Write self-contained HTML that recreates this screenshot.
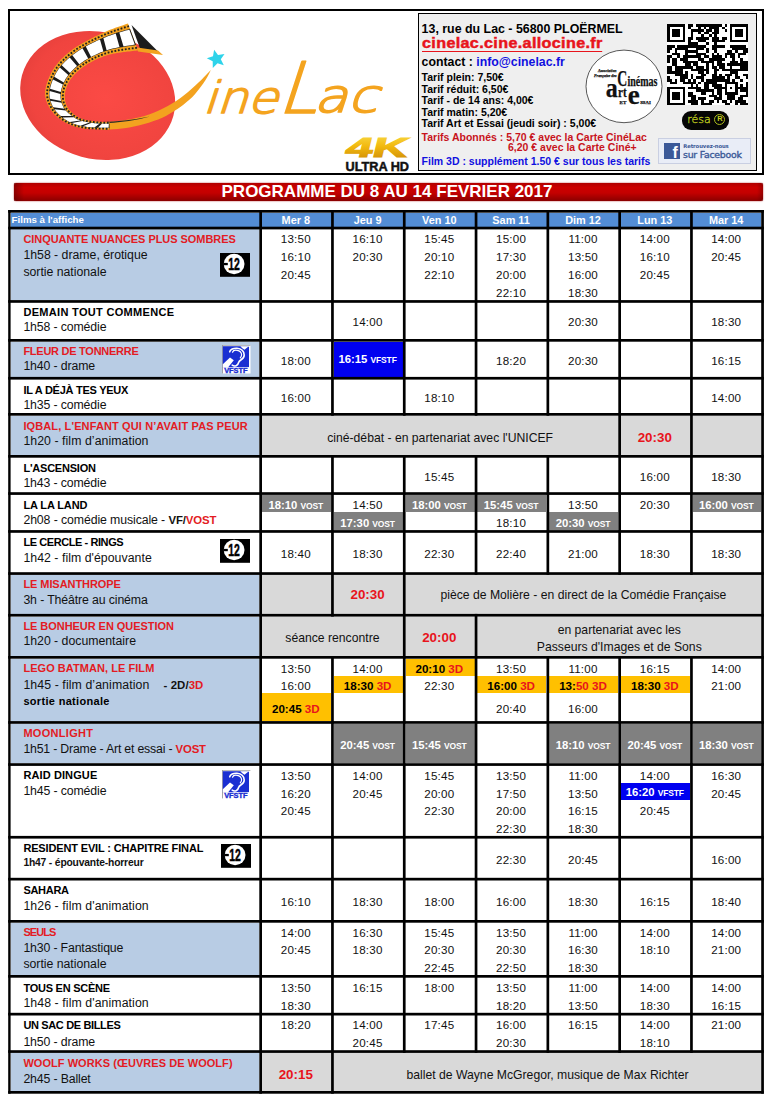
<!DOCTYPE html>
<html lang="fr"><head><meta charset="utf-8"><title>CinéLac - Programme du 8 au 14 février 2017</title>
<style>
*{box-sizing:border-box}
html,body{margin:0;padding:0;background:#fff}
body{width:774px;height:1103px;position:relative;overflow:hidden;font-family:"Liberation Sans",sans-serif;color:#000}
.b,.t,.tb,.tk,.n,.ft,.fs,.hd,.g,.rb,.ic,.grid,.a{position:absolute}
.grid{left:0;top:0}
.t,.tb,.tk,.g,.rb{text-align:center;white-space:nowrap}
.t{font-size:11.6px;color:#111;letter-spacing:0.2px}
.tb{font-size:11.3px;font-weight:700;color:#fff}
.tk{font-size:11.6px;color:#000}
.sc{font-size:8.5px;font-weight:700;letter-spacing:-0.15px}
.r3{color:#e8141c;font-size:11.6px;font-weight:700}
.g{font-size:12.2px;color:#111}
.rb{font-size:13.4px;font-weight:700;color:#e8141c}
.ft{font-size:11px;font-weight:700;white-space:nowrap;color:#000}
.fs{font-size:12.3px;white-space:nowrap;color:#111}
.fs b{font-size:11.4px}
.sm{font-size:10.3px;font-weight:700}
.r,.ft.r{color:#e31b23}
.hd{font-size:9.7px;font-weight:700;color:#fff;white-space:nowrap}
.hd.c{text-align:center;font-size:10.9px}
.frame{position:absolute;left:8px;top:9px;width:756px;height:166px;border:2px solid #000}
.info{position:absolute;left:417.5px;top:13px;width:339.5px;height:157.5px;border:1px solid #000;background:#efefef}
.a{white-space:nowrap;font-weight:700}
.banner{position:absolute;left:14px;top:183px;width:748.5px;height:18px;border-radius:2px;
 background:linear-gradient(to bottom,#b00000 0%,#cc0000 25%,#c40000 55%,#8a0000 100%);box-shadow:0 0 1.5px #a00000}
.banner:before{content:"";position:absolute;left:0;top:0;bottom:0;width:10px;background:linear-gradient(to right,rgba(90,0,0,.55),rgba(90,0,0,0))}
.banner:after{content:"";position:absolute;right:0;top:0;bottom:0;width:6px;background:linear-gradient(to left,rgba(90,0,0,.4),rgba(90,0,0,0))}
.ttl{position:absolute;left:0;top:183px;width:774px;height:18px;line-height:18px;text-align:center;color:#fff;font-weight:700;font-size:17px;white-space:nowrap}
</style></head><body>
<div class="frame"></div>
<svg class="a" style="left:0;top:0" width="420" height="176" viewBox="0 0 420 176">
<defs><radialGradient id="rg" cx="55%" cy="50%" r="60%"><stop offset="0" stop-color="#fb4a45"/><stop offset="0.8" stop-color="#f0443f"/><stop offset="1" stop-color="#e43f3b"/></radialGradient>
<linearGradient id="gold" x1="0" y1="0" x2="0" y2="1"><stop offset="0" stop-color="#f9dc4a"/><stop offset="0.45" stop-color="#f2b90f"/><stop offset="1" stop-color="#c98506"/></linearGradient></defs>
<ellipse cx="97.7" cy="95.5" rx="78.4" ry="63.4" transform="rotate(15 97.7 95.5)" fill="url(#rg)"/>
<path fill="#f3a21f" d="M100.0 129.6C101.7 129.6 105.6 129.8 110.0 129.6C114.4 129.3 120.5 129.0 126.2 128.1C131.9 127.2 138.2 125.8 144.2 124.1C150.2 122.4 157.2 120.0 162.3 117.8C167.4 115.5 171.4 112.9 175.0 110.6C178.6 108.3 180.7 106.9 184.0 104.2C187.3 101.5 191.3 98.4 194.9 94.3C198.5 90.2 203.0 83.9 205.7 79.8C208.3 75.7 210.0 71.6 210.8 69.9 L210.8 69.9C208.8 72.0 203.0 78.3 198.5 82.5C194.0 86.7 189.1 91.3 184.0 95.2C178.9 99.1 173.5 102.8 167.8 106.0C162.1 109.2 155.7 112.0 149.7 114.2C143.7 116.4 137.6 117.8 131.6 119.0C125.6 120.2 118.8 120.9 113.5 121.4C108.2 121.9 102.2 121.9 100.0 122.0Z"/>
<path d="M100 123.6 Q128 123 150 116.6 Q128 121.2 100 122.2Z" fill="#2a2a2a"/>
<polygon fill="#f3a21f" points="128.0,23.4 127.2,23.7 126.2,24.1 125.0,24.5 123.8,24.9 122.4,25.4 120.9,25.9 119.3,26.4 117.7,27.0 116.0,27.6 114.2,28.3 112.5,28.9 110.7,29.6 108.9,30.3 107.2,31.0 105.5,31.8 103.8,32.5 102.1,33.3 100.4,34.1 98.6,34.9 96.8,35.8 94.9,36.6 93.1,37.5 91.2,38.5 89.3,39.4 87.5,40.4 85.6,41.4 83.8,42.4 82.0,43.4 80.3,44.4 78.6,45.4 76.9,46.5 75.4,47.5 73.9,48.6 72.4,49.6 71.0,50.7 69.6,51.8 68.2,52.9 66.9,54.0 65.6,55.1 64.3,56.3 63.1,57.4 61.9,58.6 60.7,59.8 59.6,61.0 58.5,62.2 57.5,63.5 56.5,64.7 55.5,66.0 54.6,67.3 53.7,68.7 52.8,70.1 52.0,71.5 51.2,73.0 50.5,74.5 49.7,75.9 49.1,77.4 48.4,78.9 47.9,80.4 47.3,81.9 46.9,83.3 46.4,84.7 46.1,86.1 45.8,87.4 45.5,88.7 45.3,89.9 45.2,91.1 45.1,92.3 45.1,93.4 45.1,94.6 45.2,95.7 45.3,96.7 45.5,97.8 45.8,98.8 46.0,99.8 46.3,100.9 46.7,101.9 47.1,102.9 47.5,103.8 47.9,104.8 48.4,105.8 48.9,106.8 49.5,107.8 50.1,108.7 50.7,109.7 51.4,110.7 52.2,111.6 52.9,112.5 53.7,113.5 54.6,114.4 55.5,115.3 56.4,116.1 57.3,117.0 58.2,117.8 59.2,118.5 60.2,119.3 61.2,120.0 62.2,120.7 63.3,121.3 64.4,122.0 65.5,122.6 66.6,123.2 67.7,123.7 68.9,124.3 70.1,124.8 71.4,125.3 72.6,125.7 73.9,126.2 75.3,126.6 76.6,127.0 78.1,127.4 79.5,127.7 81.0,128.0 82.6,128.3 84.3,128.5 86.2,128.7 88.2,128.9 90.2,129.0 92.3,129.1 94.4,129.2 96.5,129.2 98.5,129.3 100.5,129.3 102.4,129.4 104.2,129.4 105.8,129.4 107.2,129.4 108.5,129.5 109.5,129.5 109.5,122.0 109.0,122.0 108.5,122.0 107.8,122.0 107.1,122.0 106.3,122.0 105.5,122.0 104.6,121.9 103.7,121.9 102.7,121.9 101.8,121.9 100.8,121.9 99.8,121.8 98.8,121.7 97.9,121.7 96.9,121.6 96.0,121.5 95.1,121.4 94.2,121.3 93.2,121.2 92.3,121.1 91.3,121.0 90.4,120.9 89.4,120.8 88.5,120.6 87.5,120.5 86.5,120.3 85.6,120.1 84.6,119.9 83.7,119.6 82.8,119.3 81.9,119.0 81.0,118.6 80.1,118.2 79.2,117.7 78.3,117.2 77.4,116.7 76.5,116.1 75.7,115.6 74.8,114.9 73.9,114.3 73.1,113.6 72.3,113.0 71.5,112.3 70.8,111.6 70.1,110.8 69.4,110.1 68.8,109.4 68.3,108.6 67.8,107.8 67.4,107.0 67.0,106.2 66.6,105.4 66.2,104.5 65.9,103.6 65.7,102.8 65.4,101.9 65.2,100.9 65.1,100.0 64.9,99.1 64.9,98.1 64.8,97.2 64.8,96.3 64.8,95.3 64.9,94.4 65.0,93.5 65.1,92.5 65.3,91.5 65.5,90.6 65.8,89.6 66.1,88.6 66.4,87.6 66.8,86.6 67.2,85.6 67.6,84.6 68.1,83.6 68.6,82.6 69.1,81.7 69.7,80.7 70.3,79.7 71.0,78.8 71.7,77.9 72.5,76.9 73.2,76.0 74.1,75.1 75.0,74.1 75.9,73.2 76.8,72.3 77.8,71.3 78.8,70.4 79.9,69.6 80.9,68.7 82.1,67.8 83.2,67.0 84.3,66.2 85.5,65.4 86.7,64.6 87.9,63.8 89.2,63.1 90.5,62.4 91.8,61.7 93.1,61.0 94.5,60.3 95.9,59.6 97.3,59.0 98.7,58.3 100.2,57.7 101.7,57.2 103.2,56.6 104.8,56.1 106.3,55.5 107.9,55.1 109.5,54.6 111.2,54.2 113.0,53.8 114.9,53.4 116.9,53.0 118.9,52.7 121.0,52.4 123.1,52.1 125.2,51.9 127.2,51.6 129.1,51.4 131.0,51.2 132.7,51.0 134.3,50.8 135.8,50.7 137.0,50.5 138.0,50.4"/>
<polygon fill="#1c1c1c" points="130.0,28.8 129.1,29.1 128.1,29.4 126.9,29.7 125.5,30.1 124.1,30.5 122.5,31.0 120.9,31.5 119.2,32.0 117.4,32.5 115.6,33.1 113.8,33.7 111.9,34.3 110.1,34.9 108.4,35.6 106.6,36.2 104.9,36.9 103.3,37.6 101.6,38.4 99.8,39.1 98.1,39.9 96.3,40.7 94.5,41.6 92.7,42.4 90.9,43.3 89.1,44.2 87.4,45.1 85.7,46.1 84.0,47.0 82.3,48.0 80.7,49.0 79.1,49.9 77.7,50.9 76.2,51.9 74.8,52.9 73.4,54.0 72.1,55.0 70.8,56.0 69.5,57.1 68.2,58.2 67.0,59.3 65.8,60.4 64.7,61.5 63.6,62.7 62.5,63.8 61.4,65.0 60.5,66.2 59.5,67.4 58.6,68.6 57.7,69.8 56.9,71.1 56.1,72.4 55.3,73.7 54.6,75.1 53.9,76.5 53.2,77.9 52.6,79.3 52.0,80.7 51.5,82.0 51.0,83.4 50.6,84.8 50.2,86.1 49.9,87.4 49.6,88.6 49.4,89.8 49.2,91.0 49.1,92.2 49.0,93.3 49.0,94.4 49.1,95.5 49.2,96.5 49.3,97.6 49.5,98.6 49.7,99.6 50.0,100.6 50.3,101.6 50.7,102.6 51.0,103.5 51.5,104.5 51.9,105.4 52.4,106.4 52.9,107.3 53.5,108.2 54.1,109.2 54.7,110.1 55.4,111.0 56.2,111.9 57.0,112.8 57.8,113.6 58.6,114.5 59.5,115.3 60.4,116.1 61.3,116.9 62.2,117.7 63.2,118.4 64.2,119.1 65.2,119.7 66.2,120.3 67.2,120.9 68.2,121.5 69.3,122.0 70.4,122.6 71.5,123.1 72.6,123.5 73.8,124.0 75.0,124.4 76.2,124.8 77.4,125.2 78.7,125.5 80.0,125.8 81.3,126.1 82.6,126.4 84.0,126.7 85.5,126.9 87.0,127.1 88.7,127.3 90.5,127.5 92.3,127.6 94.2,127.7 96.1,127.7 97.9,127.8 99.8,127.8 101.5,127.9 103.2,127.9 104.8,127.9 106.2,127.9 107.5,127.9 108.6,128.0 109.5,128.0 109.5,123.5 108.9,123.5 108.2,123.5 107.4,123.5 106.5,123.4 105.5,123.4 104.5,123.4 103.4,123.4 102.2,123.4 101.1,123.4 99.9,123.3 98.7,123.3 97.5,123.2 96.3,123.1 95.1,123.0 94.0,122.9 93.0,122.8 92.0,122.7 91.0,122.5 89.9,122.4 88.9,122.2 87.9,122.0 86.8,121.9 85.8,121.7 84.8,121.5 83.8,121.2 82.8,121.0 81.8,120.7 80.8,120.4 79.8,120.1 78.9,119.7 77.9,119.3 77.0,118.9 76.1,118.4 75.2,117.9 74.3,117.3 73.4,116.7 72.5,116.1 71.6,115.5 70.7,114.8 69.9,114.1 69.1,113.4 68.3,112.7 67.5,112.0 66.8,111.2 66.1,110.4 65.4,109.6 64.9,108.8 64.3,108.0 63.8,107.2 63.4,106.4 63.0,105.5 62.6,104.7 62.3,103.8 61.9,102.9 61.7,102.0 61.4,101.0 61.3,100.1 61.1,99.1 61.0,98.2 60.9,97.2 60.9,96.2 60.9,95.2 60.9,94.3 61.0,93.3 61.2,92.3 61.3,91.2 61.5,90.2 61.8,89.1 62.1,88.0 62.4,87.0 62.8,85.9 63.2,84.8 63.7,83.7 64.2,82.6 64.7,81.5 65.3,80.4 65.9,79.3 66.5,78.3 67.2,77.3 67.9,76.2 68.7,75.2 69.5,74.2 70.3,73.2 71.2,72.2 72.1,71.3 73.1,70.3 74.1,69.3 75.1,68.3 76.2,67.4 77.3,66.4 78.4,65.5 79.6,64.6 80.7,63.7 82.0,62.9 83.2,62.0 84.4,61.2 85.7,60.4 87.1,59.6 88.4,58.8 89.8,58.0 91.2,57.2 92.7,56.5 94.2,55.8 95.7,55.1 97.2,54.4 98.8,53.7 100.4,53.1 101.9,52.4 103.5,51.8 105.1,51.2 106.7,50.7 108.4,50.2 110.0,49.7 111.8,49.2 113.7,48.8 115.7,48.4 117.7,48.0 119.7,47.6 121.7,47.2 123.7,46.9 125.6,46.6 127.5,46.3 129.3,46.0 130.9,45.8 132.5,45.6 133.8,45.4 135.0,45.2 136.0,45.0"/>
<polygon fill="#fff" points="129.3,29.6 128.3,29.9 127.1,30.3 125.7,30.6 124.3,31.1 122.7,31.5 121.0,32.0 119.3,32.5 123.5,46.4 125.5,46.1 127.3,45.8 129.1,45.5 130.8,45.3 132.3,45.0 133.7,44.8 134.8,44.6"/>
<polygon fill="#fff" points="115.7,33.6 113.9,34.2 112.1,34.8 110.3,35.4 108.5,36.0 106.7,36.7 105.1,37.4 103.4,38.1 106.6,50.3 108.2,49.7 109.9,49.2 111.7,48.8 113.6,48.3 115.5,47.9 117.5,47.5 119.5,47.1"/>
<polygon fill="#fff" points="100.0,39.6 98.2,40.3 96.4,41.1 94.7,42.0 92.9,42.8 91.1,43.7 89.3,44.6 87.6,45.5 85.8,46.5 91.1,56.9 92.5,56.1 94.0,55.4 95.5,54.7 97.1,54.0 98.7,53.3 100.2,52.6 101.8,52.0 103.4,51.4"/>
<polygon fill="#fff" points="82.5,48.3 80.9,49.3 79.4,50.3 77.9,51.3 76.5,52.3 75.1,53.3 73.7,54.3 72.3,55.3 79.3,64.3 80.5,63.4 81.7,62.5 83.0,61.7 84.2,60.8 85.5,60.0 86.8,59.2 88.2,58.4"/>
<polygon fill="#fff" points="69.7,57.4 68.5,58.5 67.3,59.6 66.1,60.7 64.9,61.8 63.8,62.9 62.8,64.1 61.7,65.3 70.0,73.0 70.9,72.0 71.8,71.0 72.8,70.0 73.8,69.0 74.8,68.0 75.9,67.1 77.0,66.1"/>
<polygon fill="#fff" points="59.8,67.6 58.9,68.8 58.0,70.0 57.2,71.3 56.4,72.6 55.6,74.0 54.9,75.3 54.2,76.7 63.8,82.4 64.4,81.3 64.9,80.2 65.5,79.1 66.2,78.0 66.9,77.0 67.6,76.0 68.3,75.0"/>
<polygon fill="#fff" points="53.0,79.5 52.4,80.8 51.9,82.2 51.4,83.6 51.0,84.9 50.6,86.2 50.3,87.5 50.0,88.8 60.8,92.1 60.9,91.1 61.2,90.0 61.4,89.0 61.7,87.9 62.1,86.8 62.4,85.7 62.9,84.6"/>
<polygon fill="#fff" points="49.6,91.1 49.5,92.3 49.4,93.4 49.4,94.5 49.5,95.6 49.6,96.6 49.7,97.7 49.9,98.7 61.0,101.0 60.9,100.0 60.7,99.1 60.6,98.1 60.5,97.1 60.5,96.1 60.5,95.1 60.5,94.1"/>
<polygon fill="#fff" points="50.4,100.7 50.7,101.7 51.1,102.6 51.4,103.6 51.9,104.5 52.3,105.5 52.8,106.4 53.3,107.3 64.5,108.8 63.9,108.0 63.4,107.2 63.0,106.3 62.6,105.5 62.2,104.6 61.9,103.7 61.5,102.8"/>
<polygon fill="#fff" points="54.5,109.2 55.1,110.1 55.8,111.0 56.6,111.9 57.4,112.8 58.2,113.7 59.0,114.5 59.9,115.3 60.8,116.1 72.1,116.1 71.2,115.5 70.3,114.8 69.5,114.1 68.7,113.4 67.9,112.7 67.1,111.9 66.4,111.2 65.7,110.4"/>
<polygon fill="#fff" points="62.7,117.6 63.6,118.4 64.6,119.0 65.6,119.7 66.6,120.3 67.6,120.9 68.6,121.5 69.7,122.0 80.4,120.5 79.4,120.1 78.5,119.8 77.6,119.4 76.6,118.9 75.7,118.4 74.8,117.9 73.9,117.3"/>
<polygon fill="#fff" points="71.9,123.0 73.0,123.4 74.2,123.9 75.3,124.3 76.5,124.7 77.8,125.0 79.0,125.4 80.3,125.7 89.6,122.5 88.6,122.3 87.5,122.1 86.5,122.0 85.4,121.8 84.4,121.6 83.4,121.3 82.4,121.1"/>
<polygon fill="#fff" points="82.9,126.3 84.3,126.6 85.7,126.8 87.3,127.0 89.0,127.2 90.7,127.3 92.5,127.4 94.4,127.5 99.7,123.5 98.5,123.4 97.2,123.4 96.0,123.3 94.9,123.2 93.8,123.1 92.7,122.9 91.7,122.8"/>
<polygon fill="#fff" points="98.1,127.6 99.9,127.7 101.6,127.7 103.3,127.7 104.8,127.8 106.2,127.8 107.5,127.8 108.6,127.8 108.9,123.6 108.2,123.6 107.4,123.6 106.5,123.6 105.5,123.6 104.4,123.6 103.3,123.6 102.1,123.5"/>
<path d="M129.0 26.1 L128.1 26.4 L127.1 26.7 L126.0 27.1 L124.6 27.5 L123.2 28.0 L121.7 28.4 L120.1 29.0 L118.4 29.5 L116.7 30.1 L114.9 30.7 L113.1 31.3 L111.3 31.9 L109.5 32.6 L107.8 33.3 L106.0 34.0 L104.4 34.7 L102.7 35.4 L101.0 36.2 L99.2 37.0 L97.4 37.8 L95.6 38.7 L93.8 39.6 L92.0 40.5 L90.1 41.4 L88.3 42.3 L86.5 43.3 L84.7 44.2 L83.0 45.2 L81.3 46.2 L79.6 47.2 L78.0 48.2 L76.5 49.2 L75.1 50.2 L73.6 51.3 L72.2 52.3 L70.8 53.4 L69.5 54.5 L68.2 55.6 L66.9 56.7 L65.7 57.8 L64.4 58.9 L63.3 60.1 L62.1 61.2 L61.0 62.4 L60.0 63.6 L59.0 64.8 L58.0 66.0 L57.0 67.3 L56.2 68.6 L55.3 69.9 L54.5 71.2 L53.7 72.6 L52.9 74.0 L52.2 75.5 L51.5 76.9 L50.8 78.4 L50.2 79.8 L49.7 81.2 L49.2 82.6 L48.7 84.0 L48.3 85.4 L48.0 86.7 L47.7 88.0 L47.4 89.3 L47.3 90.5 L47.1 91.6 L47.1 92.8 L47.1 93.9 L47.1 95.0 L47.2 96.1 L47.3 97.1 L47.5 98.2 L47.7 99.2 L48.0 100.2 L48.3 101.2 L48.7 102.2 L49.0 103.2 L49.5 104.2 L49.9 105.1 L50.4 106.1 L50.9 107.0 L51.5 108.0 L52.1 108.9 L52.7 109.9 L53.4 110.8 L54.2 111.7 L55.0 112.7 L55.8 113.6 L56.6 114.4 L57.5 115.3 L58.4 116.1 L59.3 116.9 L60.2 117.7 L61.2 118.5 L62.2 119.2 L63.2 119.9 L64.2 120.5 L65.2 121.1 L66.3 121.7 L67.4 122.3 L68.5 122.9 L69.6 123.4 L70.8 123.9 L72.0 124.4 L73.2 124.8 L74.4 125.3 L75.7 125.7 L77.0 126.1 L78.3 126.4 L79.7 126.7 L81.1 127.1 L82.5 127.3 L84.0 127.6 L85.7 127.8 L87.5 128.0 L89.3 128.2 L91.3 128.3 L93.2 128.4 L95.2 128.5 L97.2 128.5 L99.1 128.6 L101.0 128.6 L102.8 128.6 L104.5 128.6 L106.0 128.7 L107.4 128.7 L108.5 128.7 L109.5 128.8" fill="none" stroke="#222" stroke-width="1.9" stroke-dasharray="1.8 1.7"/>
<path d="M137.0 47.7 L136.0 47.9 L134.8 48.0 L133.4 48.2 L131.8 48.4 L130.1 48.6 L128.3 48.9 L126.4 49.1 L124.4 49.4 L122.4 49.7 L120.3 50.0 L118.3 50.3 L116.3 50.7 L114.3 51.1 L112.4 51.5 L110.6 51.9 L108.9 52.4 L107.3 52.9 L105.7 53.4 L104.2 53.9 L102.6 54.5 L101.0 55.1 L99.5 55.7 L98.0 56.4 L96.5 57.0 L95.0 57.7 L93.6 58.4 L92.2 59.1 L90.8 59.8 L89.4 60.6 L88.1 61.3 L86.8 62.1 L85.6 62.9 L84.3 63.7 L83.1 64.5 L82.0 65.4 L80.8 66.2 L79.7 67.1 L78.6 68.0 L77.5 68.9 L76.5 69.8 L75.4 70.8 L74.5 71.7 L73.5 72.7 L72.6 73.6 L71.8 74.6 L71.0 75.6 L70.2 76.6 L69.5 77.5 L68.8 78.5 L68.1 79.5 L67.5 80.5 L66.9 81.5 L66.4 82.6 L65.9 83.6 L65.4 84.6 L65.0 85.7 L64.6 86.7 L64.2 87.8 L63.9 88.8 L63.7 89.8 L63.4 90.9 L63.2 91.9 L63.1 92.9 L63.0 93.8 L62.9 94.8 L62.8 95.8 L62.8 96.7 L62.9 97.7 L63.0 98.6 L63.1 99.6 L63.2 100.5 L63.4 101.4 L63.7 102.4 L63.9 103.3 L64.2 104.2 L64.6 105.0 L65.0 105.9 L65.4 106.7 L65.8 107.5 L66.3 108.3 L66.8 109.1 L67.4 109.9 L68.1 110.6 L68.8 111.4 L69.5 112.1 L70.3 112.8 L71.1 113.5 L71.9 114.2 L72.8 114.9 L73.6 115.5 L74.5 116.1 L75.4 116.7 L76.3 117.3 L77.2 117.8 L78.1 118.3 L79.0 118.7 L79.9 119.2 L80.8 119.5 L81.8 119.9 L82.7 120.2 L83.7 120.4 L84.6 120.7 L85.6 120.9 L86.6 121.1 L87.6 121.2 L88.6 121.4 L89.6 121.5 L90.6 121.7 L91.6 121.8 L92.6 121.9 L93.5 122.0 L94.5 122.2 L95.5 122.3 L96.5 122.4 L97.6 122.4 L98.6 122.5 L99.7 122.6 L100.8 122.6 L101.9 122.6 L103.0 122.7 L104.0 122.7 L105.0 122.7 L105.9 122.7 L106.8 122.7 L107.6 122.7 L108.3 122.7 L109.0 122.7 L109.5 122.8" fill="none" stroke="#222" stroke-width="1.9" stroke-dasharray="1.8 1.7"/>
<polygon fill="#1c1c1c" points="131.5,25 158,51.5 140,48.5"/>
<polygon fill="#f3a21f" points="137,47.5 158,50.5 163,55 138,51.5"/>
<polygon fill="#2ed3ea" points="214.1,49.7 218.0,54.9 224.5,53.9 220.8,59.3 223.8,65.2 217.5,63.3 212.8,67.9 212.7,61.3 206.8,58.3 213.0,56.2"/>
<g font-family="'DejaVu Sans Light','DejaVu Sans',sans-serif" font-weight="200" fill="#f4a41f" stroke="#f4a41f" stroke-width="1.7" stroke-linejoin="round">
<text transform="translate(202.5 112.6) skewX(-18)" font-size="44" textLength="75" lengthAdjust="spacingAndGlyphs">ine</text>
<text transform="translate(276.5 112.6) skewX(-18)" font-size="71" textLength="40" lengthAdjust="spacingAndGlyphs">L</text>
<text transform="translate(313.5 112.2) skewX(-18)" font-size="46" textLength="64" lengthAdjust="spacingAndGlyphs">ac</text>
</g>
<text transform="translate(344 157.2) skewX(-14)" font-family="'Liberation Sans',sans-serif" font-weight="700" font-size="27.5" fill="url(#gold)" stroke="url(#gold)" stroke-width="1.2" textLength="62" lengthAdjust="spacingAndGlyphs">4K</text>
<text x="345.5" y="171" font-family="'Liberation Sans',sans-serif" font-weight="700" font-size="13.2" fill="#111" stroke="#111" stroke-width="0.5" textLength="63.5" lengthAdjust="spacingAndGlyphs">ULTRA HD</text>
</svg>
<div class="info"></div>
<div class="a" style="left:421.6px;top:21.5px;font-size:12.4px;line-height:15px">13, rue du Lac - 56800 PLOËRMEL</div>
<div class="a" style="left:421.6px;top:35.3px;font-size:13.8px;line-height:17px;color:#e8141c;letter-spacing:0.3px;-webkit-text-stroke:0.45px #e8141c;border-bottom:1.3px solid #e8141c;height:17px;transform:scaleX(1.17);transform-origin:0 0">cinelac.cine.allocine.fr</div>
<div class="a" style="left:421.6px;top:54.5px;font-size:12.3px;line-height:15px">contact : <span style="color:#1010e0">info@cinelac.fr</span></div>
<div class="a" style="left:421.6px;top:72.2px;font-size:10.5px;line-height:11.55px;white-space:pre">Tarif plein: 7,50€
Tarif réduit: 6,50€
Tarif - de 14 ans: 4,00€
Tarif matin: 5,20€
Tarif Art et Essai (jeudi soir) : 5,00€</div>
<div class="a" style="left:421.6px;top:132.3px;font-size:10.5px;line-height:11px;color:#c8141c">Tarifs Abonnés : 5,70 € avec la Carte CinéLac</div>
<div class="a" style="left:508px;top:142.3px;font-size:10.5px;line-height:11px;color:#c8141c">6,20 € avec la Carte Ciné+</div>
<div class="a" style="left:421.6px;top:155.8px;font-size:10.5px;line-height:11px;color:#1010e0">Film 3D : supplément 1.50 € sur tous les tarifs</div>
<svg class="a" style="left:580px;top:44px" width="90" height="84" viewBox="580 44 90 84">
<ellipse cx="624" cy="86.4" rx="38" ry="36.3" fill="#fff" stroke="#111" stroke-width="0.7"/>
<g font-family="'Liberation Serif',serif" font-weight="700" fill="#111" stroke="#111" stroke-width="0.25">
<text x="598" y="72.3" font-size="4.4" font-style="italic" textLength="18.5" lengthAdjust="spacingAndGlyphs">Association</text>
<text x="594" y="76.6" font-size="4.4" font-style="italic" textLength="22.5" lengthAdjust="spacingAndGlyphs">Française des</text>
<text x="617.2" y="85.9" font-size="24" textLength="10" lengthAdjust="spacingAndGlyphs">C</text>
<text x="627.4" y="85.9" font-size="14.5" textLength="30" lengthAdjust="spacingAndGlyphs">inémas</text>
<text x="605.8" y="96.8" font-size="27" textLength="12" lengthAdjust="spacingAndGlyphs">a</text>
<text x="618" y="96.8" font-size="14.5" textLength="8.6" lengthAdjust="spacingAndGlyphs">rt</text>
<text x="627.8" y="104" font-size="28" textLength="12" lengthAdjust="spacingAndGlyphs">e</text>
<text x="619.6" y="104" font-size="5" textLength="6.8" lengthAdjust="spacingAndGlyphs">ET</text>
<text x="640.2" y="104" font-size="5" textLength="10.6" lengthAdjust="spacingAndGlyphs">SSAI</text>
</g></svg>
<svg class="a" style="left:667.2px;top:23.6px" width="81.2" height="81.2" viewBox="0 0 31 31" shape-rendering="crispEdges"><rect width="31" height="31" fill="#fff"/><path fill="#000" d="M0 0h7v1h-7zM8 0h2v1h-2zM11 0h10v1h-10zM22 0h1v1h-1zM24 0h7v1h-7zM0 1h1v1h-1zM6 1h1v1h-1zM8 1h1v1h-1zM12 1h1v1h-1zM14 1h1v1h-1zM16 1h4v1h-4zM21 1h1v1h-1zM24 1h1v1h-1zM30 1h1v1h-1zM0 2h1v1h-1zM2 2h3v1h-3zM6 2h1v1h-1zM9 2h5v1h-5zM15 2h2v1h-2zM18 2h2v1h-2zM22 2h1v1h-1zM24 2h1v1h-1zM26 2h3v1h-3zM30 2h1v1h-1zM0 3h1v1h-1zM2 3h3v1h-3zM6 3h1v1h-1zM9 3h1v1h-1zM12 3h1v1h-1zM14 3h2v1h-2zM17 3h3v1h-3zM24 3h1v1h-1zM26 3h3v1h-3zM30 3h1v1h-1zM0 4h1v1h-1zM2 4h3v1h-3zM6 4h1v1h-1zM9 4h1v1h-1zM13 4h1v1h-1zM16 4h1v1h-1zM18 4h1v1h-1zM24 4h1v1h-1zM26 4h3v1h-3zM30 4h1v1h-1zM0 5h1v1h-1zM6 5h1v1h-1zM8 5h2v1h-2zM11 5h5v1h-5zM17 5h3v1h-3zM21 5h2v1h-2zM24 5h1v1h-1zM30 5h1v1h-1zM0 6h7v1h-7zM8 6h1v1h-1zM12 6h3v1h-3zM17 6h5v1h-5zM24 6h7v1h-7zM8 7h4v1h-4zM15 7h1v1h-1zM18 7h1v1h-1zM0 8h3v1h-3zM4 8h11v1h-11zM17 8h5v1h-5zM24 8h6v1h-6zM0 9h2v1h-2zM3 9h5v1h-5zM11 9h3v1h-3zM15 9h1v1h-1zM17 9h2v1h-2zM25 9h6v1h-6zM0 10h1v1h-1zM3 10h1v1h-1zM7 10h5v1h-5zM15 10h1v1h-1zM18 10h1v1h-1zM23 10h2v1h-2zM26 10h1v1h-1zM29 10h2v1h-2zM2 11h3v1h-3zM7 11h1v1h-1zM11 11h4v1h-4zM17 11h1v1h-1zM19 11h1v1h-1zM22 11h4v1h-4zM27 11h3v1h-3zM0 12h2v1h-2zM4 12h1v1h-1zM6 12h7v1h-7zM14 12h2v1h-2zM17 12h4v1h-4zM22 12h1v1h-1zM24 12h2v1h-2zM27 12h1v1h-1zM0 13h1v1h-1zM2 13h2v1h-2zM5 13h3v1h-3zM12 13h2v1h-2zM16 13h6v1h-6zM25 13h1v1h-1zM28 13h1v1h-1zM0 14h1v1h-1zM2 14h2v1h-2zM6 14h6v1h-6zM13 14h5v1h-5zM19 14h2v1h-2zM24 14h3v1h-3zM28 14h3v1h-3zM2 15h2v1h-2zM7 15h2v1h-2zM10 15h2v1h-2zM15 15h1v1h-1zM17 15h1v1h-1zM19 15h3v1h-3zM23 15h8v1h-8zM0 16h2v1h-2zM3 16h7v1h-7zM11 16h3v1h-3zM15 16h1v1h-1zM17 16h2v1h-2zM20 16h2v1h-2zM24 16h1v1h-1zM28 16h3v1h-3zM0 17h2v1h-2zM3 17h3v1h-3zM9 17h7v1h-7zM18 17h2v1h-2zM21 17h10v1h-10zM0 18h6v1h-6zM7 18h1v1h-1zM12 18h2v1h-2zM15 18h1v1h-1zM18 18h1v1h-1zM24 18h3v1h-3zM3 19h5v1h-5zM9 19h1v1h-1zM13 19h2v1h-2zM17 19h2v1h-2zM20 19h1v1h-1zM22 19h3v1h-3zM26 19h1v1h-1zM29 19h2v1h-2zM0 20h1v1h-1zM5 20h3v1h-3zM9 20h1v1h-1zM11 20h3v1h-3zM17 20h5v1h-5zM23 20h1v1h-1zM26 20h2v1h-2zM30 20h1v1h-1zM0 21h2v1h-2zM3 21h1v1h-1zM5 21h2v1h-2zM8 21h1v1h-1zM10 21h1v1h-1zM13 21h1v1h-1zM15 21h9v1h-9zM25 21h1v1h-1zM28 21h1v1h-1zM1 22h3v1h-3zM6 22h5v1h-5zM12 22h1v1h-1zM14 22h5v1h-5zM22 22h5v1h-5zM30 22h1v1h-1zM9 23h1v1h-1zM11 23h1v1h-1zM14 23h2v1h-2zM17 23h4v1h-4zM22 23h1v1h-1zM26 23h1v1h-1zM28 23h1v1h-1zM30 23h1v1h-1zM0 24h7v1h-7zM8 24h5v1h-5zM14 24h2v1h-2zM18 24h5v1h-5zM24 24h1v1h-1zM26 24h5v1h-5zM0 25h1v1h-1zM6 25h1v1h-1zM11 25h7v1h-7zM19 25h2v1h-2zM22 25h1v1h-1zM26 25h1v1h-1zM28 25h3v1h-3zM0 26h1v1h-1zM2 26h3v1h-3zM6 26h1v1h-1zM8 26h2v1h-2zM13 26h2v1h-2zM17 26h1v1h-1zM19 26h2v1h-2zM22 26h5v1h-5zM30 26h1v1h-1zM0 27h1v1h-1zM2 27h3v1h-3zM6 27h1v1h-1zM8 27h3v1h-3zM16 27h3v1h-3zM20 27h1v1h-1zM23 27h3v1h-3zM28 27h3v1h-3zM0 28h1v1h-1zM2 28h3v1h-3zM6 28h1v1h-1zM9 28h2v1h-2zM12 28h3v1h-3zM18 28h3v1h-3zM23 28h3v1h-3zM27 28h2v1h-2zM0 29h1v1h-1zM6 29h1v1h-1zM8 29h4v1h-4zM13 29h1v1h-1zM16 29h2v1h-2zM19 29h1v1h-1zM21 29h2v1h-2zM24 29h1v1h-1zM26 29h4v1h-4zM0 30h7v1h-7zM9 30h3v1h-3zM13 30h4v1h-4zM22 30h2v1h-2zM26 30h1v1h-1zM28 30h3v1h-3z"/></svg>
<div class="a" style="left:682.4px;top:110.5px;width:47px;height:19px;border-radius:9px;background:#050505"></div>
<div class="a" style="left:687.2px;top:110.5px;height:19px;line-height:18.2px;color:#c3d21f;font-family:'DejaVu Sans Light','DejaVu Sans',sans-serif;font-weight:200;font-size:11px;-webkit-text-stroke:0.3px #c3d21f">résa</div>
<div class="a" style="left:714.4px;top:114.3px;width:11px;height:11px;border-radius:6px;border:1.3px solid #aebd1c;color:#c3d21f;font-size:7.5px;line-height:8.6px;text-align:center">R</div>
<div class="a" style="left:658.3px;top:138px;width:92.6px;height:26px;background:#e9edf7;border:1px solid #c9cfe2"></div>
<div class="a" style="left:664px;top:143px;width:16px;height:16px;background:#3b5998;color:#fff;font-size:16px;line-height:19px;text-align:right;padding-right:2.2px;overflow:hidden">f</div>
<div class="a" style="left:683.2px;top:142.3px;font-size:5.3px;line-height:8px;color:#3b5998;font-family:'DejaVu Sans',sans-serif;letter-spacing:-0.1px">Retrouvez-nous</div>
<div class="a" style="left:683px;top:149.2px;font-size:9.4px;line-height:12px;color:#3b5998;font-weight:400;font-family:'DejaVu Sans',sans-serif;-webkit-text-stroke:0.35px #3b5998;letter-spacing:-0.25px">sur Facebook</div>

<div class="banner"></div><div class="ttl">PROGRAMME DU 8 AU 14 FEVRIER 2017</div>
<div class="b" style="left:10.5px;top:229.4px;width:248.8px;height:70.7px;background:#b8cce4"></div>
<div class="b" style="left:10.5px;top:341.7px;width:248.8px;height:35.2px;background:#b8cce4"></div>
<div class="b" style="left:10.5px;top:415.7px;width:248.8px;height:39.3px;background:#b8cce4"></div>
<div class="b" style="left:10.5px;top:574.9px;width:248.8px;height:39.0px;background:#b8cce4"></div>
<div class="b" style="left:10.5px;top:616.6px;width:248.8px;height:39.4px;background:#b8cce4"></div>
<div class="b" style="left:10.5px;top:658.7px;width:248.8px;height:62.4px;background:#b8cce4"></div>
<div class="b" style="left:10.5px;top:723.8px;width:248.8px;height:39.4px;background:#b8cce4"></div>
<div class="b" style="left:10.5px;top:922.7px;width:248.8px;height:52.3px;background:#b8cce4"></div>
<div class="b" style="left:10.5px;top:1052.9px;width:248.8px;height:38.1px;background:#b8cce4"></div>
<div class="b" style="left:10.5px;top:212.7px;width:750.7px;height:14.0px;background:#538dd5"></div>
<div class="b" style="left:333.8px;top:341.7px;width:69.1px;height:35.2px;background:#0000f0"></div>
<div class="b" style="left:262.0px;top:415.7px;width:499.2px;height:39.3px;background:#d9d9d9"></div>
<div class="b" style="left:262.0px;top:494.9px;width:69.1px;height:17.5px;background:#808080"></div>
<div class="b" style="left:333.8px;top:512.4px;width:69.1px;height:17.7px;background:#808080"></div>
<div class="b" style="left:405.6px;top:494.9px;width:69.1px;height:17.5px;background:#808080"></div>
<div class="b" style="left:477.4px;top:494.9px;width:69.1px;height:17.5px;background:#808080"></div>
<div class="b" style="left:549.2px;top:512.4px;width:69.1px;height:17.7px;background:#808080"></div>
<div class="b" style="left:692.8px;top:494.9px;width:68.4px;height:17.5px;background:#808080"></div>
<div class="b" style="left:262.0px;top:574.9px;width:499.2px;height:39.0px;background:#d9d9d9"></div>
<div class="b" style="left:262.0px;top:616.6px;width:499.2px;height:39.4px;background:#d9d9d9"></div>
<div class="b" style="left:262.0px;top:692.8px;width:69.1px;height:28.3px;background:#ffc000"></div>
<div class="b" style="left:333.8px;top:676.0px;width:69.1px;height:16.8px;background:#ffc000"></div>
<div class="b" style="left:405.6px;top:658.7px;width:69.1px;height:17.3px;background:#ffc000"></div>
<div class="b" style="left:477.4px;top:676.0px;width:69.1px;height:16.8px;background:#ffc000"></div>
<div class="b" style="left:549.2px;top:676.0px;width:69.1px;height:16.8px;background:#ffc000"></div>
<div class="b" style="left:621.0px;top:676.0px;width:69.1px;height:16.8px;background:#ffc000"></div>
<div class="b" style="left:333.8px;top:723.8px;width:69.1px;height:39.4px;background:#808080"></div>
<div class="b" style="left:405.6px;top:723.8px;width:69.1px;height:39.4px;background:#808080"></div>
<div class="b" style="left:549.2px;top:723.8px;width:69.1px;height:39.4px;background:#808080"></div>
<div class="b" style="left:621.0px;top:723.8px;width:69.1px;height:39.4px;background:#808080"></div>
<div class="b" style="left:692.8px;top:723.8px;width:68.4px;height:39.4px;background:#808080"></div>
<div class="b" style="left:621.0px;top:783.4px;width:69.1px;height:17.0px;background:#0000f0"></div>
<div class="b" style="left:262.0px;top:1052.9px;width:499.2px;height:38.1px;background:#d9d9d9"></div>
<svg class="grid" width="774" height="1103" viewBox="0 0 774 1103"><rect x="8.2" y="210.0" width="2.4000000000000004" height="883.7"/><rect x="259.3" y="210.0" width="2.7" height="883.7"/><rect x="331.1" y="210.0" width="2.7" height="205.7"/><rect x="331.1" y="455.0" width="2.7" height="161.6"/><rect x="331.1" y="656.0" width="2.7" height="437.7"/><rect x="402.9" y="210.0" width="2.7" height="205.7"/><rect x="402.9" y="455.0" width="2.7" height="597.9"/><rect x="474.7" y="210.0" width="2.7" height="205.7"/><rect x="474.7" y="455.0" width="2.7" height="119.9"/><rect x="474.7" y="613.9" width="2.7" height="439.0"/><rect x="546.5" y="210.0" width="2.7" height="205.7"/><rect x="546.5" y="455.0" width="2.7" height="119.9"/><rect x="546.5" y="656.0" width="2.7" height="396.9"/><rect x="618.3" y="210.0" width="2.7" height="364.9"/><rect x="618.3" y="656.0" width="2.7" height="396.9"/><rect x="690.1" y="210.0" width="2.7" height="364.9"/><rect x="690.1" y="656.0" width="2.7" height="396.9"/><rect x="761.2" y="210.0" width="2.7" height="883.7"/><rect x="8.2" y="210.0" width="755.6" height="2.7"/><rect x="8.2" y="226.7" width="755.6" height="2.7"/><rect x="8.2" y="300.1" width="755.6" height="2.7"/><rect x="8.2" y="339.0" width="755.6" height="2.7"/><rect x="8.2" y="376.9" width="755.6" height="2.7"/><rect x="8.2" y="413.0" width="755.6" height="2.7"/><rect x="8.2" y="455.0" width="755.6" height="2.7"/><rect x="8.2" y="492.2" width="755.6" height="2.7"/><rect x="8.2" y="530.1" width="755.6" height="2.7"/><rect x="8.2" y="572.2" width="755.6" height="2.7"/><rect x="8.2" y="613.9" width="755.6" height="2.7"/><rect x="8.2" y="656.0" width="755.6" height="2.7"/><rect x="8.2" y="721.1" width="755.6" height="2.7"/><rect x="8.2" y="763.2" width="755.6" height="2.7"/><rect x="8.2" y="835.9" width="755.6" height="2.7"/><rect x="8.2" y="877.8" width="755.6" height="2.7"/><rect x="8.2" y="920.0" width="755.6" height="2.7"/><rect x="8.2" y="975.0" width="755.6" height="2.7"/><rect x="8.2" y="1012.8" width="755.6" height="2.7"/><rect x="8.2" y="1050.2" width="755.6" height="2.7"/><rect x="8.2" y="1091.0" width="755.6" height="2.7"/></svg>

<div class="ft r" style="left:23.4px;top:231.0px;height:16px;line-height:16px;letter-spacing:-0.05px;">CINQUANTE NUANCES PLUS SOMBRES</div>
<div class="fs" style="left:23.4px;top:246.8px;height:16px;line-height:16px;letter-spacing:-0.01px;">1h58 - drame, érotique</div>
<div class="fs" style="left:23.4px;top:263.6px;height:16px;line-height:16px;letter-spacing:-0.02px;">sortie nationale</div>
<div class="ft" style="left:23.4px;top:304.2px;height:16px;line-height:16px;letter-spacing:0.32px;">DEMAIN TOUT COMMENCE</div>
<div class="fs" style="left:23.4px;top:319.3px;height:16px;line-height:16px;letter-spacing:-0.13px;">1h58 - comédie</div>
<div class="ft r" style="left:23.4px;top:343.3px;height:16px;line-height:16px;letter-spacing:-0.26px;">FLEUR DE TONNERRE</div>
<div class="fs" style="left:23.4px;top:358.2px;height:16px;line-height:16px;letter-spacing:-0.13px;">1h40 - drame</div>
<div class="ft" style="left:23.4px;top:381.7px;height:16px;line-height:16px;letter-spacing:-0.26px;">IL A DÉJÀ TES YEUX</div>
<div class="fs" style="left:23.4px;top:397.1px;height:16px;line-height:16px;letter-spacing:-0.13px;">1h35 - comédie</div>
<div class="ft r" style="left:23.4px;top:418.1px;height:16px;line-height:16px;letter-spacing:0.12px;">IQBAL, L'ENFANT QUI N’AVAIT PAS PEUR</div>
<div class="fs" style="left:23.4px;top:433.2px;height:16px;line-height:16px;letter-spacing:0.06px;">1h20 - film d’animation</div>
<div class="ft" style="left:23.4px;top:459.6px;height:16px;line-height:16px;letter-spacing:-0.22px;">L'ASCENSION</div>
<div class="fs" style="left:23.4px;top:475.1px;height:16px;line-height:16px;letter-spacing:-0.13px;">1h43 - comédie</div>
<div class="ft" style="left:23.4px;top:496.9px;height:16px;line-height:16px;letter-spacing:-0.13px;">LA LA LAND</div>
<div class="fs" style="left:23.4px;top:512.0px;height:16px;line-height:16px;letter-spacing:-0.10px;">2h08 - comédie musicale - <b>VF/</b><b class="r">VOST</b></div>
<div class="ft" style="left:23.4px;top:533.9px;height:16px;line-height:16px;letter-spacing:-0.42px;">LE CERCLE - RINGS</div>
<div class="fs" style="left:23.4px;top:550.3px;height:16px;line-height:16px;letter-spacing:0.04px;">1h42 - film d'épouvante</div>
<div class="ft r" style="left:23.4px;top:576.0px;height:16px;line-height:16px;letter-spacing:-0.07px;">LE MISANTHROPE</div>
<div class="fs" style="left:23.4px;top:592.3px;height:16px;line-height:16px;letter-spacing:-0.12px;">3h - Théâtre au cinéma</div>
<div class="ft r" style="left:23.4px;top:617.7px;height:16px;line-height:16px;letter-spacing:-0.05px;">LE BONHEUR EN QUESTION</div>
<div class="fs" style="left:23.4px;top:633.3px;height:16px;line-height:16px;letter-spacing:-0.01px;">1h20 - documentaire</div>
<div class="ft r" style="left:23.4px;top:660.2px;height:16px;line-height:16px;letter-spacing:0.05px;">LEGO BATMAN, LE FILM</div>
<div class="fs" style="left:23.4px;top:676.5px;height:16px;line-height:16px;letter-spacing:0.10px;">1h45 - film d’animation &nbsp;&nbsp; <b>- 2D/</b><b class="r">3D</b></div>
<div class="ft" style="left:23.4px;top:692.6px;height:16px;line-height:16px;letter-spacing:0.32px;">sortie nationale</div>
<div class="ft r" style="left:23.4px;top:725.0px;height:16px;line-height:16px;letter-spacing:0.29px;">MOONLIGHT</div>
<div class="fs" style="left:23.4px;top:741.3px;height:16px;line-height:16px;letter-spacing:-0.19px;">1h51 - Drame - Art et essai - <b class="r">VOST</b></div>
<div class="ft" style="left:23.4px;top:767.0px;height:16px;line-height:16px;letter-spacing:0.11px;">RAID DINGUE</div>
<div class="fs" style="left:23.4px;top:783.3px;height:16px;line-height:16px;letter-spacing:-0.13px;">1h45 - comédie</div>
<div class="ft" style="left:23.4px;top:840.0px;height:16px;line-height:16px;letter-spacing:-0.15px;">RESIDENT EVIL : CHAPITRE FINAL</div>
<div class="fs sm" style="left:23.4px;top:855.0px;height:16px;line-height:16px;letter-spacing:-0.17px;">1h47 - épouvante-horreur</div>
<div class="ft" style="left:23.4px;top:881.6px;height:16px;line-height:16px;letter-spacing:-0.28px;">SAHARA</div>
<div class="fs" style="left:23.4px;top:898.3px;height:16px;line-height:16px;letter-spacing:0.09px;">1h26 - film d'animation</div>
<div class="ft r" style="left:23.4px;top:924.2px;height:16px;line-height:16px;letter-spacing:-0.95px;">SEULS</div>
<div class="fs" style="left:23.4px;top:940.1px;height:16px;line-height:16px;letter-spacing:-0.15px;">1h30 - Fantastique</div>
<div class="fs" style="left:23.4px;top:956.1px;height:16px;line-height:16px;letter-spacing:-0.02px;">sortie nationale</div>
<div class="ft" style="left:23.4px;top:980.1px;height:16px;line-height:16px;letter-spacing:-0.25px;">TOUS EN SCÈNE</div>
<div class="fs" style="left:23.4px;top:995.4px;height:16px;line-height:16px;letter-spacing:0.09px;">1h48 - film d'animation</div>
<div class="ft" style="left:23.4px;top:1016.7px;height:16px;line-height:16px;letter-spacing:-0.35px;">UN SAC DE BILLES</div>
<div class="fs" style="left:23.4px;top:1033.5px;height:16px;line-height:16px;letter-spacing:-0.13px;">1h50 - drame</div>
<div class="ft r" style="left:23.4px;top:1054.8px;height:16px;line-height:16px;letter-spacing:0.05px;">WOOLF WORKS (ŒUVRES DE WOOLF)</div>
<div class="fs" style="left:23.4px;top:1070.8px;height:16px;line-height:16px;letter-spacing:-0.14px;">2h45 - Ballet</div>
<div class="hd" style="left:11.6px;top:212.4px;height:16px;line-height:16px;">Films à l'affiche</div>
<div class="hd c" style="left:260.8px;top:212.4px;width:70px;height:16px;line-height:16px;">Mer 8</div>
<div class="hd c" style="left:332.6px;top:212.4px;width:70px;height:16px;line-height:16px;">Jeu 9</div>
<div class="hd c" style="left:404.3px;top:212.4px;width:70px;height:16px;line-height:16px;">Ven 10</div>
<div class="hd c" style="left:476.1px;top:212.4px;width:70px;height:16px;line-height:16px;">Sam 11</div>
<div class="hd c" style="left:548.0px;top:212.4px;width:70px;height:16px;line-height:16px;">Dim 12</div>
<div class="hd c" style="left:619.8px;top:212.4px;width:70px;height:16px;line-height:16px;">Lun 13</div>
<div class="hd c" style="left:691.2px;top:212.4px;width:70px;height:16px;line-height:16px;">Mar 14</div>
<div class="t" style="left:261.8px;top:231.2px;width:68px;height:16px;line-height:16px;">13:50</div>
<div class="t" style="left:261.8px;top:249.0px;width:68px;height:16px;line-height:16px;">16:10</div>
<div class="t" style="left:261.8px;top:266.8px;width:68px;height:16px;line-height:16px;">20:45</div>
<div class="t" style="left:333.6px;top:231.2px;width:68px;height:16px;line-height:16px;">16:10</div>
<div class="t" style="left:333.6px;top:249.0px;width:68px;height:16px;line-height:16px;">20:30</div>
<div class="t" style="left:405.3px;top:231.2px;width:68px;height:16px;line-height:16px;">15:45</div>
<div class="t" style="left:405.3px;top:249.0px;width:68px;height:16px;line-height:16px;">20:10</div>
<div class="t" style="left:405.3px;top:266.8px;width:68px;height:16px;line-height:16px;">22:10</div>
<div class="t" style="left:477.1px;top:231.2px;width:68px;height:16px;line-height:16px;">15:00</div>
<div class="t" style="left:477.1px;top:249.0px;width:68px;height:16px;line-height:16px;">17:30</div>
<div class="t" style="left:477.1px;top:266.8px;width:68px;height:16px;line-height:16px;">20:00</div>
<div class="t" style="left:477.1px;top:285.0px;width:68px;height:16px;line-height:16px;">22:10</div>
<div class="t" style="left:549.0px;top:231.2px;width:68px;height:16px;line-height:16px;">11:00</div>
<div class="t" style="left:549.0px;top:249.0px;width:68px;height:16px;line-height:16px;">13:50</div>
<div class="t" style="left:549.0px;top:266.8px;width:68px;height:16px;line-height:16px;">16:00</div>
<div class="t" style="left:549.0px;top:285.0px;width:68px;height:16px;line-height:16px;">18:30</div>
<div class="t" style="left:620.8px;top:231.2px;width:68px;height:16px;line-height:16px;">14:00</div>
<div class="t" style="left:620.8px;top:249.0px;width:68px;height:16px;line-height:16px;">16:10</div>
<div class="t" style="left:620.8px;top:266.8px;width:68px;height:16px;line-height:16px;">20:45</div>
<div class="t" style="left:692.2px;top:231.2px;width:68px;height:16px;line-height:16px;">14:00</div>
<div class="t" style="left:692.2px;top:249.0px;width:68px;height:16px;line-height:16px;">20:45</div>
<div class="t" style="left:333.6px;top:314.1px;width:68px;height:16px;line-height:16px;">14:00</div>
<div class="t" style="left:549.0px;top:314.1px;width:68px;height:16px;line-height:16px;">20:30</div>
<div class="t" style="left:692.2px;top:314.1px;width:68px;height:16px;line-height:16px;">18:30</div>
<div class="t" style="left:261.8px;top:353.3px;width:68px;height:16px;line-height:16px;">18:00</div>
<div class="t" style="left:477.1px;top:353.3px;width:68px;height:16px;line-height:16px;">18:20</div>
<div class="t" style="left:549.0px;top:353.3px;width:68px;height:16px;line-height:16px;">20:30</div>
<div class="t" style="left:692.2px;top:353.3px;width:68px;height:16px;line-height:16px;">16:15</div>
<div class="tb" style="left:332.6px;top:351.3px;width:70px;height:16px;line-height:16px;">16:15 <span class="sc">VFSTF</span></div>
<div class="t" style="left:261.8px;top:389.9px;width:68px;height:16px;line-height:16px;">16:00</div>
<div class="t" style="left:405.3px;top:389.9px;width:68px;height:16px;line-height:16px;">18:10</div>
<div class="t" style="left:692.2px;top:389.9px;width:68px;height:16px;line-height:16px;">14:00</div>
<div class="g" style="left:270.1px;top:429.6px;width:340px;height:16px;line-height:16px;">ciné-débat - en partenariat avec l'UNICEF</div>
<div class="rb" style="left:620.8px;top:429.6px;width:68px;height:16px;line-height:16px;">20:30</div>
<div class="t" style="left:405.3px;top:468.9px;width:68px;height:16px;line-height:16px;">15:45</div>
<div class="t" style="left:620.8px;top:468.9px;width:68px;height:16px;line-height:16px;">16:00</div>
<div class="t" style="left:692.2px;top:468.9px;width:68px;height:16px;line-height:16px;">18:30</div>
<div class="tb" style="left:260.8px;top:497.0px;width:70px;height:16px;line-height:16px;">18:10 <span class="sc">VOST</span></div>
<div class="t" style="left:333.6px;top:497.0px;width:68px;height:16px;line-height:16px;">14:50</div>
<div class="tb" style="left:332.6px;top:514.6px;width:70px;height:16px;line-height:16px;">17:30 <span class="sc">VOST</span></div>
<div class="tb" style="left:404.3px;top:497.0px;width:70px;height:16px;line-height:16px;">18:00 <span class="sc">VOST</span></div>
<div class="tb" style="left:476.1px;top:497.0px;width:70px;height:16px;line-height:16px;">15:45 <span class="sc">VOST</span></div>
<div class="t" style="left:477.1px;top:514.8px;width:68px;height:16px;line-height:16px;">18:10</div>
<div class="t" style="left:549.0px;top:497.0px;width:68px;height:16px;line-height:16px;">13:50</div>
<div class="tb" style="left:548.0px;top:514.6px;width:70px;height:16px;line-height:16px;">20:30 <span class="sc">VOST</span></div>
<div class="t" style="left:620.8px;top:497.0px;width:68px;height:16px;line-height:16px;">20:30</div>
<div class="tb" style="left:691.2px;top:497.0px;width:70px;height:16px;line-height:16px;">16:00 <span class="sc">VOST</span></div>
<div class="t" style="left:261.8px;top:546.1px;width:68px;height:16px;line-height:16px;">18:40</div>
<div class="t" style="left:333.6px;top:546.1px;width:68px;height:16px;line-height:16px;">18:30</div>
<div class="t" style="left:405.3px;top:546.1px;width:68px;height:16px;line-height:16px;">22:30</div>
<div class="t" style="left:477.1px;top:546.1px;width:68px;height:16px;line-height:16px;">22:40</div>
<div class="t" style="left:549.0px;top:546.1px;width:68px;height:16px;line-height:16px;">21:00</div>
<div class="t" style="left:620.8px;top:546.1px;width:68px;height:16px;line-height:16px;">18:30</div>
<div class="t" style="left:692.2px;top:546.1px;width:68px;height:16px;line-height:16px;">18:30</div>
<div class="rb" style="left:333.6px;top:587.4px;width:68px;height:16px;line-height:16px;">20:30</div>
<div class="g" style="left:408.4px;top:587.4px;width:350px;height:16px;line-height:16px;">pièce de Molière - en direct de la Comédie Française</div>
<div class="g" style="left:262.4px;top:629.8px;width:140px;height:16px;line-height:16px;">séance rencontre</div>
<div class="rb" style="left:405.3px;top:629.8px;width:68px;height:16px;line-height:16px;">20:00</div>
<div class="g" style="left:479.3px;top:622.1px;width:280px;height:16px;line-height:16px;">en partenariat avec les</div>
<div class="g" style="left:479.3px;top:639.0px;width:280px;height:16px;line-height:16px;">Passeurs d'Images et de Sons</div>
<div class="t" style="left:261.8px;top:661.1px;width:68px;height:16px;line-height:16px;">13:50</div>
<div class="t" style="left:261.8px;top:677.9px;width:68px;height:16px;line-height:16px;">16:00</div>
<div class="tk" style="left:260.8px;top:701.3px;width:70px;height:16px;line-height:16px;"><b>20:45</b> <span class="r3">3D</span></div>
<div class="t" style="left:333.6px;top:661.1px;width:68px;height:16px;line-height:16px;">14:00</div>
<div class="tk" style="left:332.6px;top:677.9px;width:70px;height:16px;line-height:16px;"><b>18:30</b> <span class="r3">3D</span></div>
<div class="tk" style="left:404.3px;top:661.1px;width:70px;height:16px;line-height:16px;"><b>20:10</b> <span class="r3">3D</span></div>
<div class="t" style="left:405.3px;top:677.9px;width:68px;height:16px;line-height:16px;">22:30</div>
<div class="t" style="left:477.1px;top:661.1px;width:68px;height:16px;line-height:16px;">13:50</div>
<div class="tk" style="left:476.1px;top:677.9px;width:70px;height:16px;line-height:16px;"><b>16:00</b> <span class="r3">3D</span></div>
<div class="t" style="left:477.1px;top:701.3px;width:68px;height:16px;line-height:16px;">20:40</div>
<div class="t" style="left:549.0px;top:661.1px;width:68px;height:16px;line-height:16px;">11:00</div>
<div class="tk" style="left:548.0px;top:677.9px;width:70px;height:16px;line-height:16px;"><b>13:</b><b class="r3">50</b> <span class="r3">3D</span></div>
<div class="t" style="left:549.0px;top:701.3px;width:68px;height:16px;line-height:16px;">16:00</div>
<div class="t" style="left:620.8px;top:661.1px;width:68px;height:16px;line-height:16px;">16:15</div>
<div class="tk" style="left:619.8px;top:677.9px;width:70px;height:16px;line-height:16px;"><b>18:30</b> <span class="r3">3D</span></div>
<div class="t" style="left:692.2px;top:661.1px;width:68px;height:16px;line-height:16px;">14:00</div>
<div class="t" style="left:692.2px;top:677.9px;width:68px;height:16px;line-height:16px;">21:00</div>
<div class="tb" style="left:332.6px;top:737.4px;width:70px;height:16px;line-height:16px;">20:45 <span class="sc">VOST</span></div>
<div class="tb" style="left:404.3px;top:737.4px;width:70px;height:16px;line-height:16px;">15:45 <span class="sc">VOST</span></div>
<div class="tb" style="left:548.0px;top:737.4px;width:70px;height:16px;line-height:16px;">18:10 <span class="sc">VOST</span></div>
<div class="tb" style="left:619.8px;top:737.4px;width:70px;height:16px;line-height:16px;">20:45 <span class="sc">VOST</span></div>
<div class="tb" style="left:691.2px;top:737.4px;width:70px;height:16px;line-height:16px;">18:30 <span class="sc">VOST</span></div>
<div class="t" style="left:261.8px;top:767.6px;width:68px;height:16px;line-height:16px;">13:50</div>
<div class="t" style="left:261.8px;top:785.7px;width:68px;height:16px;line-height:16px;">16:20</div>
<div class="t" style="left:261.8px;top:803.0px;width:68px;height:16px;line-height:16px;">20:45</div>
<div class="t" style="left:333.6px;top:767.6px;width:68px;height:16px;line-height:16px;">14:00</div>
<div class="t" style="left:333.6px;top:785.7px;width:68px;height:16px;line-height:16px;">20:45</div>
<div class="t" style="left:405.3px;top:767.6px;width:68px;height:16px;line-height:16px;">15:45</div>
<div class="t" style="left:405.3px;top:785.7px;width:68px;height:16px;line-height:16px;">20:00</div>
<div class="t" style="left:405.3px;top:803.0px;width:68px;height:16px;line-height:16px;">22:30</div>
<div class="t" style="left:477.1px;top:767.6px;width:68px;height:16px;line-height:16px;">13:50</div>
<div class="t" style="left:477.1px;top:785.7px;width:68px;height:16px;line-height:16px;">17:50</div>
<div class="t" style="left:477.1px;top:803.0px;width:68px;height:16px;line-height:16px;">20:00</div>
<div class="t" style="left:477.1px;top:821.0px;width:68px;height:16px;line-height:16px;">22:30</div>
<div class="t" style="left:549.0px;top:767.6px;width:68px;height:16px;line-height:16px;">11:00</div>
<div class="t" style="left:549.0px;top:785.7px;width:68px;height:16px;line-height:16px;">13:50</div>
<div class="t" style="left:549.0px;top:803.0px;width:68px;height:16px;line-height:16px;">16:15</div>
<div class="t" style="left:549.0px;top:821.0px;width:68px;height:16px;line-height:16px;">18:30</div>
<div class="t" style="left:620.8px;top:767.6px;width:68px;height:16px;line-height:16px;">14:00</div>
<div class="t" style="left:620.8px;top:803.0px;width:68px;height:16px;line-height:16px;">20:45</div>
<div class="t" style="left:692.2px;top:767.6px;width:68px;height:16px;line-height:16px;">16:30</div>
<div class="t" style="left:692.2px;top:785.7px;width:68px;height:16px;line-height:16px;">20:45</div>
<div class="tb" style="left:619.8px;top:783.9px;width:70px;height:16px;line-height:16px;">16:20 <span class="sc">VFSTF</span></div>
<div class="t" style="left:477.1px;top:852.0px;width:68px;height:16px;line-height:16px;">22:30</div>
<div class="t" style="left:549.0px;top:852.0px;width:68px;height:16px;line-height:16px;">20:45</div>
<div class="t" style="left:692.2px;top:852.0px;width:68px;height:16px;line-height:16px;">16:00</div>
<div class="t" style="left:261.8px;top:893.9px;width:68px;height:16px;line-height:16px;">16:10</div>
<div class="t" style="left:333.6px;top:893.9px;width:68px;height:16px;line-height:16px;">18:30</div>
<div class="t" style="left:405.3px;top:893.9px;width:68px;height:16px;line-height:16px;">18:00</div>
<div class="t" style="left:477.1px;top:893.9px;width:68px;height:16px;line-height:16px;">16:00</div>
<div class="t" style="left:549.0px;top:893.9px;width:68px;height:16px;line-height:16px;">18:30</div>
<div class="t" style="left:620.8px;top:893.9px;width:68px;height:16px;line-height:16px;">16:15</div>
<div class="t" style="left:692.2px;top:893.9px;width:68px;height:16px;line-height:16px;">18:40</div>
<div class="t" style="left:261.8px;top:925.3px;width:68px;height:16px;line-height:16px;">14:00</div>
<div class="t" style="left:261.8px;top:941.9px;width:68px;height:16px;line-height:16px;">20:45</div>
<div class="t" style="left:333.6px;top:925.3px;width:68px;height:16px;line-height:16px;">16:30</div>
<div class="t" style="left:333.6px;top:941.9px;width:68px;height:16px;line-height:16px;">18:30</div>
<div class="t" style="left:405.3px;top:925.3px;width:68px;height:16px;line-height:16px;">15:45</div>
<div class="t" style="left:405.3px;top:941.9px;width:68px;height:16px;line-height:16px;">20:30</div>
<div class="t" style="left:405.3px;top:960.0px;width:68px;height:16px;line-height:16px;">22:45</div>
<div class="t" style="left:477.1px;top:925.3px;width:68px;height:16px;line-height:16px;">13:50</div>
<div class="t" style="left:477.1px;top:941.9px;width:68px;height:16px;line-height:16px;">20:30</div>
<div class="t" style="left:477.1px;top:960.0px;width:68px;height:16px;line-height:16px;">22:50</div>
<div class="t" style="left:549.0px;top:925.3px;width:68px;height:16px;line-height:16px;">11:00</div>
<div class="t" style="left:549.0px;top:941.9px;width:68px;height:16px;line-height:16px;">16:30</div>
<div class="t" style="left:549.0px;top:960.0px;width:68px;height:16px;line-height:16px;">18:30</div>
<div class="t" style="left:620.8px;top:925.3px;width:68px;height:16px;line-height:16px;">14:00</div>
<div class="t" style="left:620.8px;top:941.9px;width:68px;height:16px;line-height:16px;">18:10</div>
<div class="t" style="left:692.2px;top:925.3px;width:68px;height:16px;line-height:16px;">14:00</div>
<div class="t" style="left:692.2px;top:941.9px;width:68px;height:16px;line-height:16px;">21:00</div>
<div class="t" style="left:261.8px;top:980.2px;width:68px;height:16px;line-height:16px;">13:50</div>
<div class="t" style="left:261.8px;top:998.1px;width:68px;height:16px;line-height:16px;">18:30</div>
<div class="t" style="left:333.6px;top:980.2px;width:68px;height:16px;line-height:16px;">16:15</div>
<div class="t" style="left:405.3px;top:980.2px;width:68px;height:16px;line-height:16px;">18:00</div>
<div class="t" style="left:477.1px;top:980.2px;width:68px;height:16px;line-height:16px;">13:50</div>
<div class="t" style="left:477.1px;top:998.1px;width:68px;height:16px;line-height:16px;">18:20</div>
<div class="t" style="left:549.0px;top:980.2px;width:68px;height:16px;line-height:16px;">11:00</div>
<div class="t" style="left:549.0px;top:998.1px;width:68px;height:16px;line-height:16px;">13:50</div>
<div class="t" style="left:620.8px;top:980.2px;width:68px;height:16px;line-height:16px;">14:00</div>
<div class="t" style="left:620.8px;top:998.1px;width:68px;height:16px;line-height:16px;">18:30</div>
<div class="t" style="left:692.2px;top:980.2px;width:68px;height:16px;line-height:16px;">14:00</div>
<div class="t" style="left:692.2px;top:998.1px;width:68px;height:16px;line-height:16px;">16:15</div>
<div class="t" style="left:261.8px;top:1016.9px;width:68px;height:16px;line-height:16px;">18:20</div>
<div class="t" style="left:333.6px;top:1016.9px;width:68px;height:16px;line-height:16px;">14:00</div>
<div class="t" style="left:333.6px;top:1035.0px;width:68px;height:16px;line-height:16px;">20:45</div>
<div class="t" style="left:405.3px;top:1016.9px;width:68px;height:16px;line-height:16px;">17:45</div>
<div class="t" style="left:477.1px;top:1016.9px;width:68px;height:16px;line-height:16px;">16:00</div>
<div class="t" style="left:477.1px;top:1035.0px;width:68px;height:16px;line-height:16px;">20:30</div>
<div class="t" style="left:549.0px;top:1016.9px;width:68px;height:16px;line-height:16px;">16:15</div>
<div class="t" style="left:620.8px;top:1016.9px;width:68px;height:16px;line-height:16px;">14:00</div>
<div class="t" style="left:620.8px;top:1035.0px;width:68px;height:16px;line-height:16px;">18:10</div>
<div class="t" style="left:692.2px;top:1016.9px;width:68px;height:16px;line-height:16px;">21:00</div>
<div class="rb" style="left:261.8px;top:1066.6px;width:68px;height:16px;line-height:16px;">20:15</div>
<div class="g" style="left:372.5px;top:1067.3px;width:350px;height:16px;line-height:16px;">ballet de Wayne McGregor, musique de Max Richter</div>

<svg class="ic" style="left:220px;top:253px" width="30" height="24" viewBox="0 0 30 24"><rect width="30" height="23.8" fill="#000"/><ellipse cx="14.1" cy="11" rx="10.4" ry="10.2" fill="#fff"/><rect x="3.2" y="9.9" width="4.6" height="2.3" fill="#000"/><text x="8.3" y="16.7" font-family="'Liberation Sans',sans-serif" font-weight="700" font-size="16.3" textLength="11.6" lengthAdjust="spacingAndGlyphs" fill="#000" stroke="#000" stroke-width="0.5">12</text></svg><svg class="ic" style="left:220px;top:539px" width="30" height="24" viewBox="0 0 30 24"><rect width="30" height="23.8" fill="#000"/><ellipse cx="14.1" cy="11" rx="10.4" ry="10.2" fill="#fff"/><rect x="3.2" y="9.9" width="4.6" height="2.3" fill="#000"/><text x="8.3" y="16.7" font-family="'Liberation Sans',sans-serif" font-weight="700" font-size="16.3" textLength="11.6" lengthAdjust="spacingAndGlyphs" fill="#000" stroke="#000" stroke-width="0.5">12</text></svg><svg class="ic" style="left:221px;top:844.2px" width="30" height="24" viewBox="0 0 30 24"><rect width="30" height="23.8" fill="#000"/><ellipse cx="14.1" cy="11" rx="10.4" ry="10.2" fill="#fff"/><rect x="3.2" y="9.9" width="4.6" height="2.3" fill="#000"/><text x="8.3" y="16.7" font-family="'Liberation Sans',sans-serif" font-weight="700" font-size="16.3" textLength="11.6" lengthAdjust="spacingAndGlyphs" fill="#000" stroke="#000" stroke-width="0.5">12</text></svg><svg class="ic" style="left:222px;top:345.3px" width="29" height="29" viewBox="0 0 29 29"><rect x="0.2" y="0" width="28.3" height="28.5" fill="#fff"/><path d="M0.4 28.4V0.2H28.4" fill="none" stroke="#555" stroke-width="0.6"/><rect x="0.8" y="1.2" width="26.2" height="20.9" fill="#1a2fd2"/><polygon points="18.3,1.2 27,1.2 27,1.8 25.5,2.3 22.5,4.8 20,3" fill="#fff"/><polygon points="8,12.6 11.8,15.2 6.4,22.1 0.8,22.1 0.8,19.3" fill="#fff"/><path d="M7.7 6.8 C8.5 2.2 21.5 1 22.2 10 C22.4 14.5 17.5 14.5 16.6 17.5 C16 20.5 12.8 22 10.2 20.2" fill="none" stroke="#fff" stroke-width="1.6" stroke-linecap="round"/><path d="M10.5 7.2 C11.5 4.2 19 4.4 19.6 9.6 C19.7 11.2 19 12 18.3 12.8" fill="none" stroke="#fff" stroke-width="1.2" stroke-linecap="round"/><text x="2.2" y="27.9" font-family="'Liberation Sans',sans-serif" font-weight="700" font-size="6.6" textLength="23.4" lengthAdjust="spacingAndGlyphs" fill="#1a2fd2" stroke="#1a2fd2" stroke-width="0.35">VFSTF</text></svg><svg class="ic" style="left:221.5px;top:770px" width="29" height="29" viewBox="0 0 29 29"><rect x="0.2" y="0" width="28.3" height="28.5" fill="#fff"/><path d="M0.4 28.4V0.2H28.4" fill="none" stroke="#555" stroke-width="0.6"/><rect x="0.8" y="1.2" width="26.2" height="20.9" fill="#1a2fd2"/><polygon points="18.3,1.2 27,1.2 27,1.8 25.5,2.3 22.5,4.8 20,3" fill="#fff"/><polygon points="8,12.6 11.8,15.2 6.4,22.1 0.8,22.1 0.8,19.3" fill="#fff"/><path d="M7.7 6.8 C8.5 2.2 21.5 1 22.2 10 C22.4 14.5 17.5 14.5 16.6 17.5 C16 20.5 12.8 22 10.2 20.2" fill="none" stroke="#fff" stroke-width="1.6" stroke-linecap="round"/><path d="M10.5 7.2 C11.5 4.2 19 4.4 19.6 9.6 C19.7 11.2 19 12 18.3 12.8" fill="none" stroke="#fff" stroke-width="1.2" stroke-linecap="round"/><text x="2.2" y="27.9" font-family="'Liberation Sans',sans-serif" font-weight="700" font-size="6.6" textLength="23.4" lengthAdjust="spacingAndGlyphs" fill="#1a2fd2" stroke="#1a2fd2" stroke-width="0.35">VFSTF</text></svg>
</body></html>
